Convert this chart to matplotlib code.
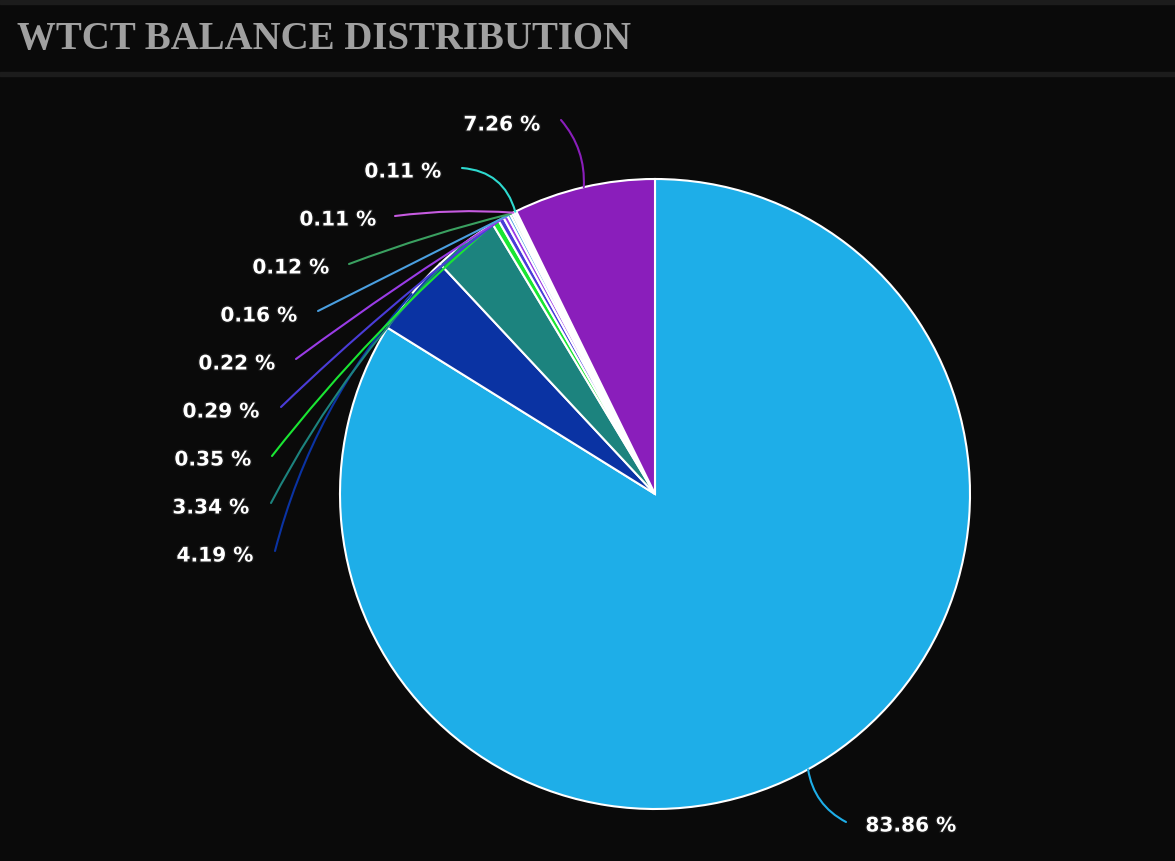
import numpy as np
import matplotlib
matplotlib.use("Agg")
import matplotlib.pyplot as plt
import matplotlib.patheffects as pe
from matplotlib.patches import Rectangle

# Data (clockwise from 12 o'clock)
values = [83.86, 4.19, 3.34, 0.35, 0.29, 0.22, 0.16, 0.12, 0.11, 0.11, 7.26]
labels = ["83.86 %", "4.19 %", "3.34 %", "0.35 %", "0.29 %", "0.22 %",
          "0.16 %", "0.12 %", "0.11 %", "0.11 %", "7.26 %"]
colors = ["#1eaee8", "#0a33a3", "#1c837e", "#1ae633", "#4a3cd8", "#9a3ce6",
          "#4a9fe0", "#3aa060", "#c65be0", "#2ed9cf", "#8a1ebb"]

title = "WTCT BALANCE DISTRIBUTION"

# pixel layout helpers (pie centre 655,494 ; radius 315 px)
CX, CY, R = 655, 494, 315
W, H = 1175, 861


def px(x, y):
    return (x - CX) / R, (CY - y) / R


# label text (right edge x, centre y) and leader start, in pixels
label_pos = [(956, 826), (253, 556), (249, 508), (251, 460), (259, 412), (275, 364),
             (297, 316), (329, 268), (376, 220), (441, 172), (540, 125)]
line_start = [(846, 822), (275, 551), (271, 503), (272, 456), (281, 407), (296, 359),
              (318, 311), (349, 264), (395, 216), (462, 168), (561, 120)]
line_rad = [-0.25, -0.12, -0.08, -0.05, -0.03, -0.02, 0.0, -0.03, -0.05, -0.35, -0.2]

fig = plt.figure(figsize=(W / 100, H / 100), dpi=100, facecolor="#0a0a0a")
ax = fig.add_axes([0, 0, 1, 1])
ax.set_facecolor("#0a0a0a")

wedges, _ = ax.pie(values, colors=colors, startangle=90, counterclock=False,
                   radius=1.0, wedgeprops=dict(edgecolor="white", linewidth=1.5))

x0, y0 = px(0, H)
x1, y1 = px(W, 0)
ax.set_xlim(x0, x1)
ax.set_ylim(y0, y1)
ax.set_aspect("auto")
ax.axis("off")

for i, w in enumerate(wedges):
    mid = np.deg2rad((w.theta1 + w.theta2) / 2)
    end = (np.cos(mid), np.sin(mid))
    tx, ty = px(*label_pos[i])
    ax.text(tx, ty, labels[i], ha="right", va="center", color="white",
            fontsize=14.5, fontweight="bold", family="DejaVu Sans",
            path_effects=[pe.withStroke(linewidth=2, foreground="#1a1a1a")])
    ax.annotate("", xy=end, xytext=px(*line_start[i]),
                arrowprops=dict(arrowstyle="-", color=colors[i], lw=1.5,
                                shrinkA=0, shrinkB=0,
                                connectionstyle="arc3,rad=%s" % line_rad[i]))

# header bars
fig.patches.append(Rectangle((0, 1 - 4 / H), 1, 4 / H, transform=fig.transFigure,
                             color="#1c1c1c", zorder=0))
fig.patches.append(Rectangle((0, 1 - 76 / H), 1, 4 / H, transform=fig.transFigure,
                             color="#1c1c1c", zorder=0))
fig.text(17 / W, 1 - 40 / H, title, ha="left", va="center", color="#a0a0a0",
         fontsize=28, fontweight="bold", family="Liberation Serif")

fig.savefig("out.png", dpi=100, facecolor=fig.get_facecolor())
